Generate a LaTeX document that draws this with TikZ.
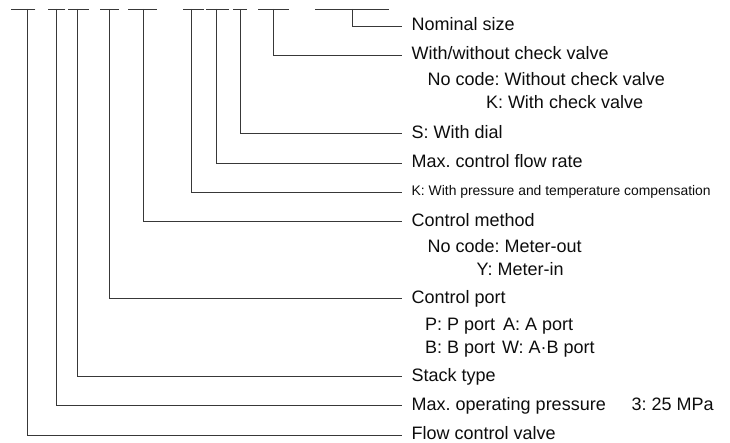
\documentclass[tikz,border=0pt]{standalone}
\usepackage{fontspec}
\setmainfont{Liberation Sans}
\frenchspacing
\tikzset{
  conn/.style={draw=black!78, line width=0.9pt, line cap=rect},
  lbl/.style={anchor=west, inner xsep=10pt, inner ysep=0pt, outer sep=0pt,
    text height=11pt, text depth=1.1pt, font=\fontsize{18}{22}\selectfont, text=black!95},
  sub/.style={lbl, inner xsep=0pt, text height=13.9pt, text depth=1pt},
  small/.style={lbl, text height=8pt, text depth=1pt, font=\fontsize{13.9}{16}\selectfont}
}
\begin{document}
\begin{tikzpicture}[x=1pt,y=-1pt]
\useasboundingbox (0,0) rectangle (730,443);
% code bars
\foreach \a/\b in {11.7/35, 48.3/65, 68.3/88.3, 100/118.3, 128.3/156.7, 183.3/203.3, 206.7/228.3, 233.3/246.7, 258.3/288.3, 315/388.3}
  \draw[conn] (\a,9) -- (\b,9);
% bar tap points
\coordinate (b1) at (27.7,9);
\coordinate (b2) at (56.7,9);
\coordinate (b3) at (77.3,9);
\coordinate (b4) at (109,9);
\coordinate (b5) at (143.3,9);
\coordinate (b6) at (191.7,9);
\coordinate (b7) at (216.7,9);
\coordinate (b8) at (240,9);
\coordinate (b9) at (273.3,9);
\coordinate (b10) at (352.3,9);
% labels
\node[lbl] (t10) at (401.7,26) {Nominal size};
\node[lbl] (t9) at (401.7,55) {With/without check valve};
\node[sub] (t9a) at (427.7,79.5) {No code: Without check valve};
\node[sub] (t9b) at (486,102.5) {K: With check valve};
\node[lbl] (t8) at (401.7,133.3) {S: With dial};
\node[lbl] (t7) at (401.7,163) {Max. control flow rate};
\node[small] (t6) at (401.7,192) {K: With pressure and temperature compensation};
\node[lbl] (t5) at (401.7,221.5) {Control method};
\node[sub] (t5a) at (427.7,246) {No code: Meter-out};
\node[sub] (t5b) at (476.7,269.5) {Y: Meter-in};
\node[lbl] (t4) at (401.7,298.5) {Control port};
\node[sub] (t4a) at (425,324) {P: P port};
\node[sub] (t4b) at (503,324) {A: A port};
\node[sub] (t4c) at (425,347.5) {B: B port};
\node[sub] (t4d) at (502,347.5) {W: A·B port};
\node[lbl] (t3) at (401.7,376.7) {Stack type};
\node[lbl] (t2) at (401.7,405.7) {Max. operating pressure};
\node[sub] (t2a) at (631.7,404.2) {3: 25 MPa};
\node[lbl] (t1) at (401.7,435) {Flow control valve};
% connectors
\foreach \i in {1,...,10}
  \draw[conn, line cap=butt] (b\i) |- (t\i.west);
\end{tikzpicture}
\end{document}
